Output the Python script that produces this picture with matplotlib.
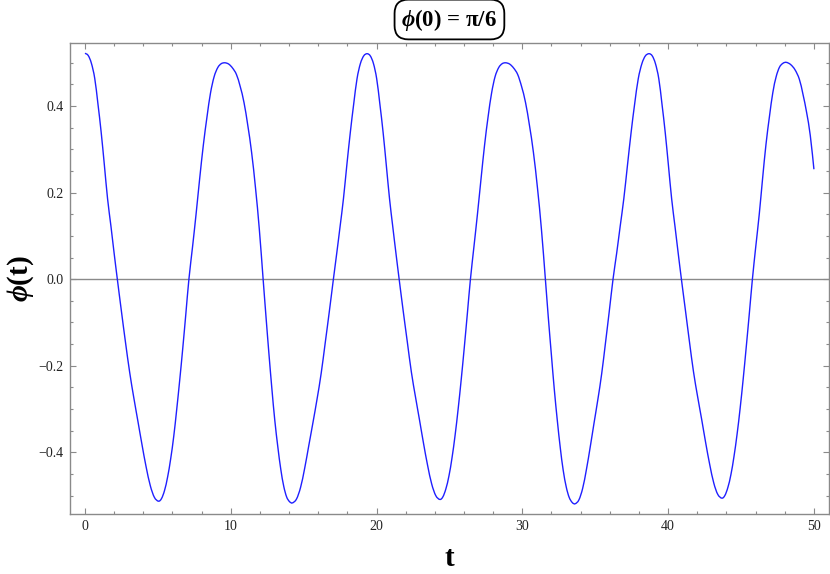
import matplotlib
matplotlib.use("Agg")
import matplotlib.pyplot as plt
from matplotlib.ticker import MultipleLocator
from matplotlib.path import Path
from matplotlib.patches import PathPatch

plt.rcParams['font.family'] = ['Liberation Serif', 'DejaVu Serif']
plt.rcParams['axes.unicode_minus'] = True
plt.rcParams['mathtext.fontset'] = 'custom'
plt.rcParams['mathtext.it'] = 'Liberation Serif:italic:bold'
plt.rcParams['mathtext.rm'] = 'Liberation Serif:bold'
plt.rcParams['mathtext.bf'] = 'Liberation Serif:bold'

# phi(t)
t_vals = [
    0.00, 0.22, 0.44, 0.67, 0.89, 1.11, 1.33, 1.55, 1.78, 2.00,
    2.22, 2.50, 2.78, 3.07, 3.35, 3.63, 3.91, 4.19, 4.48, 4.76,
    5.04, 5.25, 5.46, 5.67, 5.88, 6.09, 6.29, 6.50, 6.71, 6.92,
    7.13, 7.38, 7.62, 7.87, 8.12, 8.37, 8.61, 8.86, 9.11, 9.35,
    9.60, 9.86, 10.12, 10.39, 10.65, 10.91, 11.17, 11.43, 11.70, 11.96,
    12.22, 12.42, 12.62, 12.82, 13.02, 13.23, 13.43, 13.63, 13.83, 14.03,
    14.23, 14.51, 14.79, 15.07, 15.35, 15.64, 15.92, 16.20, 16.48, 16.76,
    17.04, 17.27, 17.50, 17.73, 17.96, 18.20, 18.43, 18.66, 18.89, 19.12,
    19.35, 19.57, 19.79, 20.01, 20.23, 20.45, 20.67, 20.89, 21.11, 21.33,
    21.55, 21.83, 22.11, 22.39, 22.67, 22.95, 23.22, 23.50, 23.78, 24.06,
    24.34, 24.55, 24.76, 24.97, 25.18, 25.39, 25.60, 25.81, 26.02, 26.23,
    26.44, 26.68, 26.92, 27.17, 27.41, 27.65, 27.89, 28.13, 28.38, 28.62,
    28.86, 29.13, 29.40, 29.68, 29.95, 30.22, 30.49, 30.76, 31.04, 31.31,
    31.58, 31.78, 31.99, 32.19, 32.40, 32.60, 32.80, 33.01, 33.21, 33.42,
    33.62, 33.88, 34.14, 34.40, 34.66, 34.92, 35.18, 35.44, 35.70, 35.96,
    36.22, 36.47, 36.71, 36.96, 37.21, 37.46, 37.70, 37.95, 38.20, 38.44,
    38.69, 38.91, 39.13, 39.36, 39.58, 39.80, 40.02, 40.24, 40.47, 40.69,
    40.91, 41.19, 41.46, 41.74, 42.02, 42.30, 42.57, 42.85, 43.13, 43.40,
    43.68, 43.89, 44.10, 44.31, 44.52, 44.73, 44.94, 45.15, 45.36, 45.57,
    45.78, 46.01, 46.25, 46.48, 46.71, 46.95, 47.18, 47.41, 47.64, 47.88,
    48.11, 48.40, 48.70, 49.00, 49.25, 49.50, 49.75, 50.00,
]
phi_vals = [
    0.522, 0.517, 0.499, 0.464, 0.405, 0.340, 0.264, 0.186, 0.123, 0.060,
    0.000, -0.074, -0.146, -0.216, -0.274, -0.328, -0.382, -0.433, -0.477, -0.504,
    -0.513, -0.507, -0.488, -0.457, -0.415, -0.363, -0.302, -0.233, -0.159, -0.080,
    0.000, 0.075, 0.150, 0.233, 0.310, 0.375, 0.430, 0.468, 0.489, 0.498,
    0.500, 0.497, 0.488, 0.473, 0.445, 0.408, 0.355, 0.293, 0.210, 0.115,
    0.000, -0.088, -0.173, -0.253, -0.326, -0.388, -0.439, -0.478, -0.503, -0.514,
    -0.517, -0.508, -0.481, -0.437, -0.385, -0.331, -0.277, -0.218, -0.147, -0.075,
    0.000, 0.060, 0.122, 0.186, 0.263, 0.339, 0.404, 0.463, 0.498, 0.516,
    0.521, 0.516, 0.498, 0.463, 0.404, 0.339, 0.263, 0.186, 0.122, 0.060,
    0.000, -0.074, -0.145, -0.215, -0.272, -0.326, -0.379, -0.430, -0.473, -0.500,
    -0.509, -0.503, -0.484, -0.454, -0.412, -0.360, -0.299, -0.231, -0.157, -0.079,
    0.000, 0.075, 0.150, 0.233, 0.310, 0.375, 0.430, 0.468, 0.489, 0.498,
    0.500, 0.497, 0.488, 0.473, 0.445, 0.408, 0.355, 0.293, 0.210, 0.115,
    0.000, -0.088, -0.174, -0.254, -0.327, -0.389, -0.441, -0.480, -0.504, -0.516,
    -0.519, -0.510, -0.483, -0.439, -0.387, -0.332, -0.278, -0.219, -0.148, -0.075,
    0.000, 0.060, 0.122, 0.186, 0.263, 0.339, 0.404, 0.463, 0.498, 0.516,
    0.521, 0.516, 0.498, 0.463, 0.404, 0.339, 0.263, 0.186, 0.122, 0.060,
    0.000, -0.073, -0.144, -0.214, -0.271, -0.324, -0.377, -0.428, -0.471, -0.497,
    -0.506, -0.500, -0.481, -0.451, -0.409, -0.358, -0.298, -0.230, -0.156, -0.079,
    0.000, 0.075, 0.150, 0.233, 0.311, 0.376, 0.431, 0.468, 0.490, 0.499,
    0.501, 0.496, 0.484, 0.462, 0.427, 0.385, 0.332, 0.254,
]
x_ticks = [0, 10, 20, 30, 40, 50]
y_ticks = [-0.4, -0.2, 0.0, 0.2, 0.4]
title_text = r"$\phi$(0) = π/6"
x_label = "t"
y_label = r"$\phi$(t)"

fig = plt.figure(figsize=(8.30, 5.74), dpi=100)
ax = fig.add_axes([0.0848, 0.1054, 0.9134, 0.8192])

frame_col = "#8a8a8a"
ax.axhline(0, color="#8a8a8a", lw=1.0, zorder=1)

# smooth rendering of the listed points (Catmull-Rom -> cubic Bezier)
n = len(t_vals)
verts = [(t_vals[0], phi_vals[0])]
codes = [Path.MOVETO]
for i in range(n - 1):
    i0 = max(i - 1, 0)
    i3 = min(i + 2, n - 1)
    c1 = (t_vals[i] + (t_vals[i + 1] - t_vals[i0]) / 6.0,
          phi_vals[i] + (phi_vals[i + 1] - phi_vals[i0]) / 6.0)
    c2 = (t_vals[i + 1] - (t_vals[i3] - t_vals[i]) / 6.0,
          phi_vals[i + 1] - (phi_vals[i3] - phi_vals[i]) / 6.0)
    verts += [c1, c2, (t_vals[i + 1], phi_vals[i + 1])]
    codes += [Path.CURVE4, Path.CURVE4, Path.CURVE4]
curve = PathPatch(Path(verts, codes), fill=False, edgecolor="#1f1fff",
                  lw=1.0, zorder=3, transform=ax.transData)
ax.add_patch(curve)

ax.set_xlim(-1.0, 51.0)
ax.set_ylim(-0.5415, 0.5451)
ax.set_xticks(x_ticks)
ax.set_yticks(y_ticks)
ax.set_xticklabels([str(v) for v in x_ticks])
ax.set_yticklabels([f"{v:.1f}".replace("-", "\u2212") for v in y_ticks])
ax.xaxis.set_minor_locator(MultipleLocator(2))
ax.yaxis.set_minor_locator(MultipleLocator(0.05))

for sp in ax.spines.values():
    sp.set_color(frame_col)
    sp.set_linewidth(1.0)

ax.tick_params(which="both", direction="in", top=True, right=True,
               color=frame_col, width=0.8, labelsize=10, labelcolor="#222222")
ax.tick_params(which="major", length=4.5, pad=5)
ax.tick_params(which="minor", length=2.5)

ax.set_xlabel(x_label, fontsize=21, fontweight="bold", labelpad=8)
ax.set_ylabel(y_label, fontsize=21, fontweight="bold", labelpad=2)

fig.text(0.5415, 0.966, title_text, ha="center", va="center",
         fontsize=16.5, fontweight="bold",
         bbox=dict(boxstyle="round,pad=0.3,rounding_size=0.6",
                   fc="white", ec="black", lw=1.3))

fig.savefig("out.png", dpi=100)
